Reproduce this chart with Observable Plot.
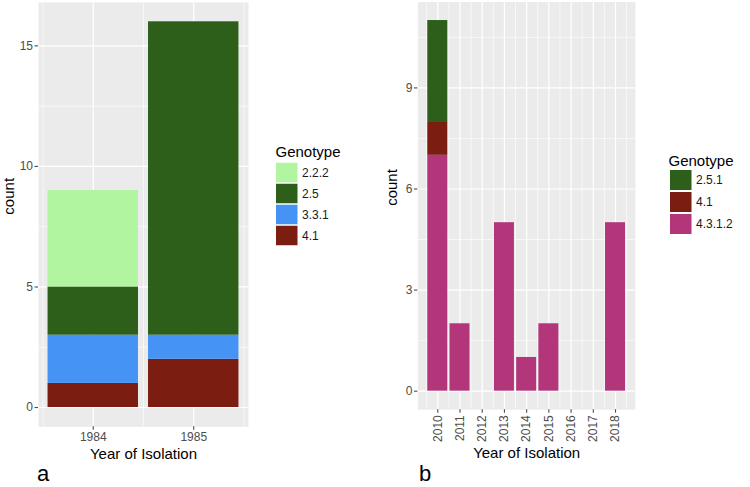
<!DOCTYPE html>
<html>
<head>
<meta charset="utf-8">
<script src="https://cdn.jsdelivr.net/npm/d3@7"></script>
<script src="https://cdn.jsdelivr.net/npm/@observablehq/plot@0.6"></script>
<style>
  html, body { margin: 0; padding: 0; background: #fff; }
  #root { position: relative; width: 750px; height: 487px; overflow: hidden; font-family: "Liberation Sans", Arial, sans-serif; }
  #root > div.part { position: absolute; }
  .letter { position: absolute; font-size: 22px; line-height: 24px; color: #000; font-family: "Liberation Sans", Arial, sans-serif; }
</style>
</head>
<body>
<div id="root"></div>
<script>
// ---------- Panel a data ----------
const yearsA = [1984, 1985];
const genotypesA = ["2.2.2", "2.5", "3.3.1", "4.1"];
const colorsA = ["#B1F5A1", "#2D5F1B", "#4493F5", "#7B1D10"];
const countA_41 = [1, 2];
const countA_331 = [2, 1];
const countA_25 = [2, 13];
const countA_222 = [4, 0];
const yTicksA = [0, 5, 10, 15];
const yMinorA = [2.5, 7.5, 12.5];
const xMinorA = [1983.5, 1984.5, 1985.5];

// ---------- Panel b data ----------
const yearsB = [2010, 2011, 2012, 2013, 2014, 2015, 2016, 2017, 2018];
const genotypesB = ["2.5.1", "4.1", "4.3.1.2"];
const colorsB = ["#2D5F1B", "#7B1D10", "#B3357A"];
const countB_4312 = [7, 2, 0, 5, 1, 2, 0, 0, 5];
const countB_41 = [1, 0, 0, 0, 0, 0, 0, 0, 0];
const countB_251 = [3, 0, 0, 0, 0, 0, 0, 0, 0];
const yTicksB = [0, 3, 6, 9];
const yMinorB = [1.5, 4.5, 7.5, 10.5];
const xMinorB = [2009.5, 2010.5, 2011.5, 2012.5, 2013.5, 2014.5, 2015.5, 2016.5, 2017.5, 2018.5];

// rows in stacking order (bottom first, like ggplot)
function rows(years, series) {
  const out = [];
  years.forEach((yr, i) => {
    series.forEach(([g, arr]) => { if (arr[i] > 0) out.push({year: yr, genotype: g, count: arr[i]}); });
  });
  return out;
}
const dataA = rows(yearsA, [["4.1", countA_41], ["3.3.1", countA_331], ["2.5", countA_25], ["2.2.2", countA_222]]);
const dataB = rows(yearsB, [["4.3.1.2", countB_4312], ["4.1", countB_41], ["2.5.1", countB_251]]);

const HALF = 0.45;
function xDomain(years) {
  const lo = d3.min(years) - HALF, hi = d3.max(years) + HALF, p = (hi - lo) * 0.05;
  return [lo - p, hi + p];
}
function yDomain(data) {
  const tot = d3.max(d3.rollup(data, v => d3.sum(v, d => d.count), d => d.year).values());
  return [-tot * 0.05, tot * 1.05];
}

const FONT = "Liberation Sans, Arial, sans-serif";

function panel({data, years, genotypes, colors, yTicks, yMinor, xMinor, width, height, margins, rotate, yLabelDx, xLabelDy}) {
  return Plot.plot({
    width, height,
    marginLeft: margins[0], marginRight: margins[1], marginTop: margins[2], marginBottom: margins[3],
    style: {fontFamily: FONT, background: "transparent", overflow: "visible"},
    x: {domain: xDomain(years)},
    y: {domain: yDomain(data)},
    color: {domain: genotypes, range: colors},
    marks: [
      Plot.frame({fill: "#EBEBEB", stroke: "none"}),
      Plot.gridY(yMinor, {stroke: "#fff", strokeOpacity: 1, strokeWidth: 0.6}),
      Plot.gridX(xMinor, {stroke: "#fff", strokeOpacity: 1, strokeWidth: 0.6}),
      Plot.gridY(yTicks, {stroke: "#fff", strokeOpacity: 1, strokeWidth: 1.2}),
      Plot.gridX(years, {stroke: "#fff", strokeOpacity: 1, strokeWidth: 1.2}),
      Plot.rectY(data, {x1: d => d.year - HALF, x2: d => d.year + HALF, y: "count", fill: "genotype"}),
      Plot.axisY(yTicks, {anchor: "left", tickSize: 3.5, tickPadding: 2, fontSize: 12, color: "#4D4D4D", strokeWidth: 1.1, label: null}),
      Plot.axisX(years, {anchor: "bottom", tickSize: 3.5, tickPadding: 2, fontSize: 12, color: "#4D4D4D", strokeWidth: 1.1,
        tickFormat: d => String(d), tickRotate: rotate, label: null}),
      Plot.text(["count"], {frameAnchor: "left", dx: yLabelDx, rotate: -90, fontSize: 15, fill: "#000", text: d => d}),
      Plot.text(["Year of Isolation"], {frameAnchor: "bottom", dy: xLabelDy, fontSize: 15, fill: "#000", text: d => d})
    ]
  });
}

function legend({genotypes, colors, width, height, margins, inset, titleDx, titleDy}) {
  return Plot.plot({
    width, height,
    marginLeft: margins[0], marginRight: margins[1], marginTop: margins[2], marginBottom: margins[3],
    style: {fontFamily: FONT, background: "transparent", overflow: "visible"},
    x: {axis: null},
    y: {axis: null, domain: genotypes, padding: 0},
    color: {domain: genotypes, range: colors},
    marks: [
      Plot.cell(genotypes, {y: d => d, fill: d => d, insetTop: inset, insetBottom: inset}),
      Plot.text(genotypes, {y: d => d, frameAnchor: "right", dx: 4, textAnchor: "start", fontSize: 12, fill: "#1a1a1a", text: d => d}),
      Plot.text(["Genotype"], {frameAnchor: "top-left", dx: titleDx, dy: titleDy, lineAnchor: "bottom", textAnchor: "start", fontSize: 15, fill: "#000", text: d => d})
    ]
  });
}

const root = document.getElementById("root");
function place(node, left, top) {
  const d = document.createElement("div");
  d.className = "part";
  d.style.left = left + "px";
  d.style.top = top + "px";
  d.appendChild(node);
  root.appendChild(d);
}

place(panel({
  data: dataA, years: yearsA, genotypes: genotypesA, colors: colorsA,
  yTicks: yTicksA, yMinor: yMinorA, xMinor: xMinorA,
  width: 260, height: 470, margins: [38, 12, 2, 43.7], rotate: 0, yLabelDx: -29.5, xLabelDy: 32
}), 0, 0);

place(panel({
  data: dataB, years: yearsB, genotypes: genotypesB, colors: colorsB,
  yTicks: yTicksB, yMinor: yMinorB, xMinor: xMinorB,
  width: 262, height: 470, margins: [37.4, 7.1, 1.5, 60.8], rotate: -90, yLabelDx: -26, xLabelDy: 48
}), 380, 0);

place(legend({
  genotypes: genotypesA, colors: colorsA,
  width: 80, height: 110, margins: [6, 52.5, 21.75, 4.25], inset: 0.75, titleDx: -1, titleDy: -5
}), 270, 140);

place(legend({
  genotypes: genotypesB, colors: colorsB,
  width: 85, height: 95, margins: [10, 53.5, 24, 5], inset: 1, titleDx: -2, titleDy: -4
}), 660, 145);

const la = document.createElement("div");
la.className = "letter"; la.textContent = "a";
la.style.left = "37px"; la.style.top = "462px";
root.appendChild(la);
const lb = document.createElement("div");
lb.className = "letter"; lb.textContent = "b";
lb.style.left = "419px"; lb.style.top = "462px";
root.appendChild(lb);
</script>
</body>
</html>
